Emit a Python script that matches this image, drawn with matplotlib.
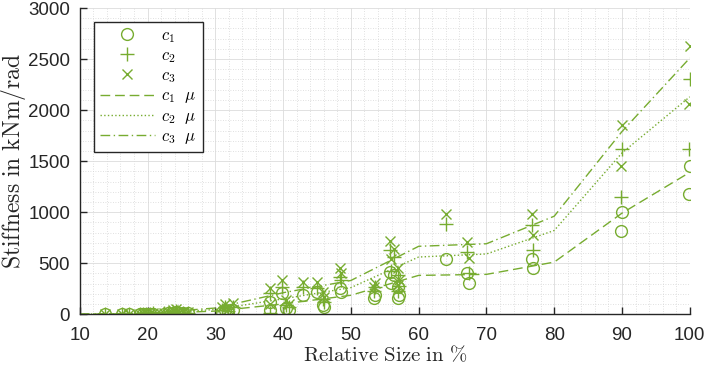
import numpy as np
import matplotlib
matplotlib.use('Agg')
import matplotlib.pyplot as plt
from matplotlib.ticker import MultipleLocator

plt.rcParams['mathtext.fontset'] = 'cm'
plt.rcParams['font.family'] = ['Liberation Sans', 'DejaVu Sans']

# samples: relative size and stiffness per coefficient
rel_size = [13.7, 16.2, 17.2, 18.9, 19.3, 19.8, 20.3, 20.8, 22.5, 23.0, 23.7, 24.2, 24.6,
            25.3, 25.9, 31.0, 31.4, 31.8, 32.6, 38.0, 38.1, 39.8, 40.5, 40.8, 42.9, 45.0,
            45.9, 46.0, 48.4, 48.6, 53.5, 53.4, 55.7, 55.9, 56.4, 56.9, 57.1, 57.0, 64.0,
            67.2, 67.4, 76.7, 76.8, 90.0, 89.9, 100.0, 99.9]
c1 = [0, 1, 2, 2, 3, 4, 3, 4, 5, 8, 15, 20, 10,
      8, 10, 25, 40, 20, 45, 120, 40, 205, 60, 40, 185, 215,
      90, 70, 255, 215, 185, 155, 410, 310, 380, 265, 185, 160, 545,
      400, 305, 545, 450, 1000, 815, 1450, 1180]
c2 = [1, 2, 3, 4, 5, 6, 5, 7, 8, 12, 25, 35, 15,
      14, 16, 45, 70, 35, 75, 205, 10, 265, 90, 70, 265, 255,
      150, 120, 365, 330, 265, 230, 630, 420, 560, 380, 280, 230, 880,
      610, 400, 870, 630, 1620, 1150, 2300, 1620]
c3 = [2, 3, 4, 6, 8, 10, 8, 10, 12, 18, 40, 55, 25,
      20, 25, 70, 100, 55, 110, 255, 100, 330, 140, 100, 315, 315,
      215, 170, 450, 400, 310, 270, 715, 545, 640, 450, 330, 290, 985,
      705, 550, 985, 780, 1850, 1450, 2630, 2060]

# mean curves
mu_size = [10, 20, 30, 40, 50, 60, 70, 80, 90, 100]
c1_mu = [0, 5, 30, 100, 185, 380, 390, 510, 990, 1390]
c2_mu = [0, 8, 45, 150, 260, 560, 590, 820, 1580, 2130]
c3_mu = [0, 10, 60, 210, 330, 665, 690, 960, 1790, 2510]

green = '#77AC30'
dark = '#262626'

fig = plt.figure(figsize=(7.06, 3.67), dpi=100)
ax = fig.add_axes([0.113, 0.144, 0.864, 0.834])

ax.plot(rel_size, c1, 'o', mfc='none', mec=green, ms=8.5, mew=1.0, label=r'$c_1$')
ax.plot(rel_size, c2, '+', mec=green, ms=9.5, mew=1.0, label=r'$c_2$')
ax.plot(rel_size, c3, 'x', mec=green, ms=7, mew=1.0, label=r'$c_3$')
ax.plot(mu_size, c1_mu, '--', color=green, lw=1.0, dashes=(7, 3.5), label=r'$c_1\ \ \mu$')
ax.plot(mu_size, c2_mu, ':', color=green, lw=1.0, label=r'$c_2\ \ \mu$')
ax.plot(mu_size, c3_mu, '-.', color=green, lw=1.0, dashes=(7, 2.5, 1, 2.5), label=r'$c_3\ \ \mu$')

ax.set_xlim(10, 100)
ax.set_ylim(0, 3000)
ax.xaxis.set_major_locator(MultipleLocator(10))
ax.xaxis.set_minor_locator(MultipleLocator(2))
ax.yaxis.set_major_locator(MultipleLocator(500))
ax.yaxis.set_minor_locator(MultipleLocator(100))
ax.grid(which='major', color='#dcdcdc', lw=0.6)
ax.grid(which='minor', color='#d6d6d6', lw=0.6, ls=(0, (1, 2)))
ax.set_axisbelow(True)

for s in ['top', 'right']:
    ax.spines[s].set_visible(False)
for s in ['left', 'bottom']:
    ax.spines[s].set_color(dark)
    ax.spines[s].set_linewidth(1.0)
ax.tick_params(which='major', direction='in', length=5, width=1.0, colors=dark,
               labelsize=13.5, labelcolor=dark)
ax.tick_params(axis='x', which='major', pad=9)
ax.tick_params(axis='y', which='major', pad=7)
ax.tick_params(which='minor', length=0)

ax.set_xlabel(r'$\mathrm{Relative\ Size\ in\ \%}$', fontsize=15, color=dark, labelpad=1)
ax.set_ylabel(r'$\mathrm{Stiffness\ in\ kNm/rad}$', fontsize=17, color=dark, labelpad=0)

leg = ax.legend(loc='upper left', bbox_to_anchor=(0.023, 0.954), borderaxespad=0,
                fontsize=12, handlelength=3.3, handletextpad=0.4, fancybox=False,
                framealpha=1, edgecolor=dark, borderpad=0.35, labelspacing=0.2)
leg.get_frame().set_linewidth(1.0)

fig.savefig('out.png', dpi=100)
